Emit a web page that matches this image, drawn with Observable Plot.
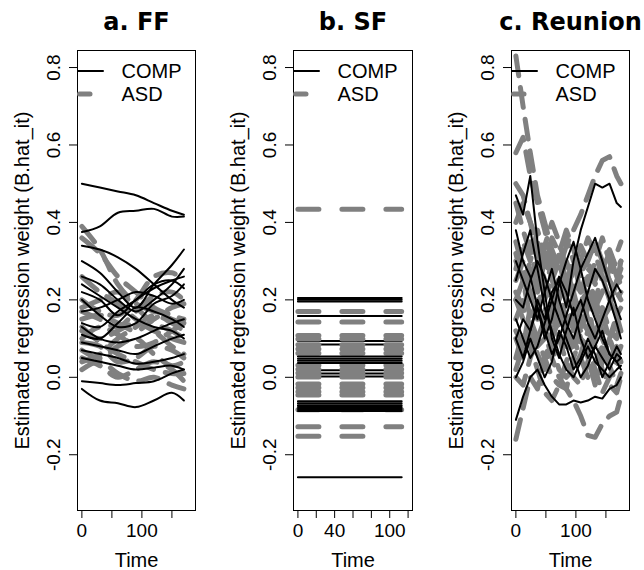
<!DOCTYPE html>
<html><head><meta charset="utf-8">
<script src="https://cdn.jsdelivr.net/npm/d3@7"></script>
<script src="https://cdn.jsdelivr.net/npm/@observablehq/plot@0.6"></script>
<style>
body{margin:0;background:#fff;}
#wrap{position:relative;width:644px;height:570px;overflow:hidden;}
#wrap svg{position:absolute;top:0;}
</style></head><body><div id="wrap"></div>
<script>
// ---------- shared axis data ----------
const yDomain = [-0.344, 0.844];
const yTicks = [-0.2, 0, 0.2, 0.4, 0.6, 0.8];
const yTickLabels = ["-0.2", "0.0", "0.2", "0.4", "0.6", "0.8"];
const yLabel = "Estimated regression weight (B.hat_it)";
const xLabel = "Time";
const legendLabels = ["COMP", "ASD"];
const titles = ["a. FF", "b. SF", "c. Reunion"];

// ---------- panel a: FF ----------
const timeFF = [0, 30, 60, 90, 120, 150, 170];
const ffComp = [
  [0.50, 0.49, 0.48, 0.47, 0.45, 0.43, 0.42],
  [0.375, 0.39, 0.425, 0.43, 0.435, 0.415, 0.415],
  [0.34, 0.33, 0.31, 0.28, 0.24, 0.20, 0.18],
  [0.30, 0.27, 0.22, 0.18, 0.24, 0.29, 0.33],
  [0.26, 0.24, 0.20, 0.17, 0.20, 0.24, 0.28],
  [0.22, 0.20, 0.16, 0.20, 0.23, 0.25, 0.26],
  [0.20, 0.16, 0.13, 0.14, 0.19, 0.21, 0.24],
  [0.17, 0.18, 0.20, 0.22, 0.21, 0.19, 0.20],
  [0.14, 0.13, 0.17, 0.20, 0.24, 0.25, 0.23],
  [0.13, 0.10, 0.09, 0.10, 0.12, 0.14, 0.15],
  [0.11, 0.10, 0.14, 0.18, 0.17, 0.15, 0.13],
  [0.09, 0.08, 0.07, 0.06, 0.08, 0.10, 0.11],
  [0.07, 0.06, 0.05, 0.035, 0.04, 0.05, 0.06],
  [0.05, 0.04, 0.03, 0.02, 0.025, 0.03, 0.02],
  [-0.01, -0.015, -0.02, -0.015, -0.01, 0.01, 0.02],
  [-0.03, -0.06, -0.067, -0.077, -0.06, -0.04, -0.06],
  [0.24, 0.21, 0.18, 0.15, 0.13, 0.12, 0.10]
];
const ffAsd = [
  [0.39, 0.33, 0.24, 0.19, 0.17, 0.15, 0.14],
  [0.36, 0.32, 0.26, 0.22, 0.18, 0.16, 0.15],
  [0.20, 0.17, 0.16, 0.20, 0.26, 0.27, 0.25],
  [0.17, 0.15, 0.13, 0.17, 0.21, 0.22, 0.20],
  [0.15, 0.16, 0.14, 0.12, 0.15, 0.18, 0.19],
  [0.12, 0.10, 0.12, 0.14, 0.12, 0.10, 0.09],
  [0.10, 0.13, 0.11, 0.08, 0.09, 0.12, 0.14],
  [0.07, 0.05, 0.08, 0.10, 0.06, 0.03, 0.04],
  [0.05, 0.03, 0.00, 0.02, 0.04, 0.02, -0.01],
  [0.02, 0.04, 0.01, -0.01, 0.00, -0.02, -0.03],
  [0.09, 0.08, 0.04, 0.05, 0.08, 0.07, 0.05],
  [0.13, 0.09, 0.06, 0.04, 0.02, 0.01, 0.01],
  [0.18, 0.20, 0.22, 0.18, 0.14, 0.12, 0.10],
  [0.04, 0.06, 0.10, 0.13, 0.16, 0.14, 0.12],
  [0.26, 0.22, 0.19, 0.15, 0.12, 0.08, 0.06]
];

// ---------- panel b: SF (constant weights) ----------
const timeSF = [0, 113];
const sfCompUnder = [0.094, 0.085, 0.018, 0.01, 0.002];
const sfComp = [0.205, 0.2, 0.196, 0.158, 0.054, 0.048, 0.043, 0.037, -0.062, -0.067, -0.072, -0.077, -0.082, -0.087, -0.258];
const sfAsd = [0.434, 0.17, 0.143, 0.108, 0.099, 0.084, 0.073, 0.062, 0.031, 0.021, 0.011, 0.001, -0.017, -0.027, -0.037, -0.046, -0.084, -0.128, -0.152];
const sfAsdEnd = [113, 113, 113, 113, 113, 113, 113, 113, 113, 113, 113, 113, 113, 113, 113, 113, 113, 113, 75];

// ---------- panel c: Reunion ----------
const timeReunion = [0, 12, 24, 36, 48, 60, 72, 84, 96, 108, 120, 132, 144, 156, 168, 175];
const reunionAsd = [
  [0.83, 0.70, 0.58, 0.47, 0.40, 0.33, 0.28, 0.30, 0.25, 0.22, 0.28, 0.26, 0.30, 0.25, 0.22, 0.20],
  [0.58, 0.62, 0.52, 0.45, 0.38, 0.30, 0.33, 0.36, 0.30, 0.26, 0.20, 0.25, 0.30, 0.33, 0.28, 0.30],
  [0.50, 0.47, 0.40, 0.35, 0.30, 0.36, 0.32, 0.25, 0.20, 0.18, 0.22, 0.18, 0.12, 0.10, 0.14, 0.12],
  [0.30, 0.25, 0.20, 0.25, 0.22, 0.30, 0.28, 0.34, 0.38, 0.42, 0.47, 0.52, 0.56, 0.57, 0.52, 0.50],
  [-0.16, -0.08, 0.00, -0.03, 0.05, 0.10, 0.15, 0.12, 0.08, 0.15, 0.20, 0.17, 0.10, 0.05, 0.08, 0.04],
  [0.20, 0.25, 0.15, 0.10, 0.05, 0.00, -0.02, -0.03, -0.06, -0.10, -0.15, -0.155, -0.12, -0.10, -0.09, -0.05],
  [0.10, 0.05, 0.15, 0.20, 0.12, 0.05, 0.00, -0.03, 0.05, 0.10, 0.08, 0.02, -0.04, 0.00, 0.05, 0.08],
  [0.25, 0.30, 0.35, 0.28, 0.20, 0.25, 0.32, 0.38, 0.33, 0.27, 0.30, 0.35, 0.30, 0.25, 0.20, 0.22],
  [0.15, 0.20, 0.28, 0.22, 0.30, 0.26, 0.18, 0.12, 0.15, 0.22, 0.26, 0.20, 0.15, 0.18, 0.25, 0.28],
  [0.05, 0.12, 0.08, 0.02, -0.04, -0.06, -0.02, 0.04, 0.10, 0.05, 0.00, 0.04, 0.08, 0.03, -0.02, 0.01],
  [0.35, 0.28, 0.22, 0.15, 0.18, 0.12, 0.20, 0.26, 0.22, 0.15, 0.12, 0.18, 0.22, 0.28, 0.32, 0.35],
  [0.20, 0.15, 0.10, 0.18, 0.25, 0.20, 0.12, 0.08, 0.15, 0.12, 0.05, 0.10, 0.18, 0.12, 0.10, 0.15],
  [0.40, 0.45, 0.40, 0.32, 0.25, 0.18, 0.22, 0.15, 0.08, 0.12, 0.18, 0.10, 0.05, 0.10, 0.05, 0.06],
  [0.00, -0.02, 0.05, 0.10, 0.15, 0.08, 0.02, 0.00, 0.02, 0.06, 0.12, 0.08, 0.02, -0.02, -0.04, 0.00],
  [0.28, 0.35, 0.30, 0.38, 0.32, 0.25, 0.30, 0.22, 0.28, 0.34, 0.30, 0.24, 0.28, 0.32, 0.26, 0.24],
  [0.12, 0.08, 0.18, 0.26, 0.34, 0.28, 0.20, 0.25, 0.30, 0.22, 0.15, 0.20, 0.26, 0.20, 0.16, 0.18],
  [0.45, 0.38, 0.32, 0.26, 0.34, 0.40, 0.35, 0.28, 0.22, 0.30, 0.36, 0.32, 0.26, 0.20, 0.24, 0.30],
  [0.02, 0.08, 0.14, 0.08, 0.10, 0.16, 0.10, 0.04, 0.00, -0.02, 0.04, 0.12, 0.16, 0.10, 0.04, 0.02],
  [0.22, 0.18, 0.12, 0.06, 0.02, 0.10, 0.18, 0.24, 0.18, 0.10, 0.05, -0.02, 0.04, 0.10, 0.16, 0.12],
  [0.32, 0.24, 0.30, 0.20, 0.12, 0.18, 0.26, 0.20, 0.12, 0.18, 0.24, 0.30, 0.36, 0.30, 0.24, 0.26]
];
const reunionComp = [
  [0.10, 0.15, 0.12, 0.20, 0.15, 0.22, 0.25, 0.18, 0.30, 0.38, 0.44, 0.50, 0.49, 0.50, 0.45, 0.44],
  [0.47, 0.42, 0.52, 0.35, 0.22, 0.10, 0.05, 0.12, 0.18, 0.10, 0.05, 0.08, 0.12, 0.06, 0.04, 0.02],
  [-0.11, -0.05, 0.00, 0.02, -0.02, -0.05, -0.07, -0.07, -0.06, -0.065, -0.06, -0.05, -0.055, -0.03, -0.02, 0.00],
  [0.30, 0.25, 0.20, 0.15, 0.22, 0.28, 0.20, 0.14, 0.10, 0.16, 0.22, 0.28, 0.25, 0.20, 0.14, 0.10],
  [0.20, 0.18, 0.25, 0.30, 0.26, 0.20, 0.15, 0.10, 0.05, 0.00, 0.03, 0.08, 0.05, 0.02, 0.06, 0.05],
  [0.10, 0.05, 0.12, 0.18, 0.12, 0.06, 0.10, 0.16, 0.22, 0.28, 0.32, 0.36, 0.30, 0.24, 0.18, 0.15],
  [0.38, 0.30, 0.26, 0.18, 0.10, 0.15, 0.24, 0.30, 0.35, 0.28, 0.20, 0.15, 0.10, 0.06, 0.04, 0.05],
  [0.00, 0.04, 0.10, 0.05, 0.00, 0.04, 0.12, 0.08, 0.02, 0.05, 0.10, 0.06, 0.00, 0.04, 0.08, 0.06],
  [0.25, 0.32, 0.38, 0.28, 0.18, 0.12, 0.06, 0.02, 0.00, 0.04, 0.08, 0.04, 0.02, 0.00, 0.02, 0.03],
  [0.15, 0.10, 0.05, 0.08, 0.14, 0.20, 0.26, 0.22, 0.16, 0.20, 0.14, 0.10, 0.15, 0.20, 0.24, 0.22]
];

// ---------- helpers ----------
const GRAY = "#808080";
const FONT = "Liberation Sans, Arial, sans-serif";
function seriesRows(time, series) {
  return series.flatMap((vals, id) => vals.map((v, j) => ({t: time[j], v, id})));
}
function flatRows(values, ends) {
  return values.flatMap((v, id) => [{t: timeSF[0], v, id}, {t: ends ? ends[id] : timeSF[1], v, id}]);
}
const asdStyle = {x: "t", y: "v", z: "id", stroke: GRAY, strokeWidth: 5, strokeDasharray: "21,23", strokeLinecap: "round", strokeLinejoin: "round", clip: true};
const asdCurvy = {...asdStyle, strokeDasharray: "20,12"};
const compStyle = {x: "t", y: "v", z: "id", stroke: "black", strokeWidth: 2, strokeLinecap: "round", strokeLinejoin: "round", clip: true};
const txt = {fill: "black", lineAnchor: "middle"};

const wrap = document.getElementById("wrap");

function panel({title, left, width, marginLeft, marginRight, xDomain, xTicks, xLabels, layers}) {
  const marginTop = 50, marginBottom = 60;
  const chart = Plot.plot({
    width, height: 570, marginLeft, marginRight, marginTop, marginBottom,
    style: {fontFamily: FONT, background: "white", overflow: "visible"},
    x: {domain: xDomain},
    y: {domain: yDomain},
    marks: [
      ...layers,
      Plot.frame({stroke: "black", strokeWidth: 1}),
      Plot.axisX({ticks: xTicks, tickSize: 8, tickFormat: () => "", label: null, stroke: "black"}),
      Plot.axisY({ticks: yTicks, tickSize: 8, tickFormat: () => "", label: null, stroke: "black"}),
      Plot.text(xLabels, {...txt, x: d => d, text: d => String(d), frameAnchor: "bottom", dy: 20, textAnchor: "middle", fontSize: 19}),
      Plot.text(yTicks, {...txt, y: d => d, text: (d, i) => yTickLabels[i], frameAnchor: "left", dx: -23.5, rotate: -90, textAnchor: "middle", fontSize: 19}),
      Plot.text([xLabel], {...txt, text: d => d, frameAnchor: "bottom", dy: 50, textAnchor: "middle", fontSize: 20}),
      Plot.text([yLabel], {...txt, text: d => d, frameAnchor: "left", dx: -55, rotate: -90, textAnchor: "middle", fontSize: 20}),
      Plot.text([title], {...txt, text: d => d, frameAnchor: "top", dy: -28, textAnchor: "middle", fontSize: 24, fontWeight: "bold", fontFamily: "DejaVu Sans, sans-serif"}),
      Plot.text([legendLabels[0]], {...txt, text: d => d, frameAnchor: "top-left", dx: 44, dy: 21, textAnchor: "start", fontSize: 20}),
      Plot.text([legendLabels[1]], {...txt, text: d => d, frameAnchor: "top-left", dx: 44, dy: 44, textAnchor: "start", fontSize: 20})
    ]
  });
  // legend line samples (layout, placed relative to the frame)
  const svg = d3.select(chart);
  svg.append("line").attr("x1", marginLeft + 1).attr("x2", marginLeft + 26)
    .attr("y1", marginTop + 21).attr("y2", marginTop + 21)
    .attr("stroke", "black").attr("stroke-width", 2).attr("stroke-linecap", "round");
  svg.append("line").attr("x1", marginLeft + 2.5).attr("x2", marginLeft + 13)
    .attr("y1", marginTop + 44).attr("y2", marginTop + 44)
    .attr("stroke", GRAY).attr("stroke-width", 5).attr("stroke-linecap", "round");
  chart.style.left = left + "px";
  wrap.appendChild(chart);
}

panel({
  title: titles[0], left: 0, width: 214, marginLeft: 77, marginRight: 19,
  xDomain: [-7.3, 189.3], xTicks: [0, 50, 100, 150], xLabels: [0, 100],
  layers: [
    Plot.line(seriesRows(timeFF, ffAsd), {...asdCurvy, curve: "catmull-rom"}),
    Plot.line(seriesRows(timeFF, ffComp), {...compStyle, curve: "catmull-rom"})
  ]
});

panel({
  title: titles[1], left: 214, width: 215, marginLeft: 79, marginRight: 17,
  xDomain: [-4.8, 124.8], xTicks: [0, 20, 40, 60, 80, 100, 120], xLabels: [0, 40, 100],
  layers: [
    Plot.line(flatRows(sfCompUnder), compStyle),
    Plot.line(flatRows(sfAsd, sfAsdEnd), asdStyle),
    Plot.line(flatRows(sfComp), compStyle)
  ]
});

panel({
  title: titles[2], left: 429, width: 215, marginLeft: 82, marginRight: 15,
  xDomain: [-7.3, 189.3], xTicks: [0, 50, 100, 150], xLabels: [0, 100],
  layers: [
    Plot.line(seriesRows(timeReunion, reunionAsd), asdCurvy),
    Plot.line(seriesRows(timeReunion, reunionComp), compStyle)
  ]
});
</script>
</body></html>
